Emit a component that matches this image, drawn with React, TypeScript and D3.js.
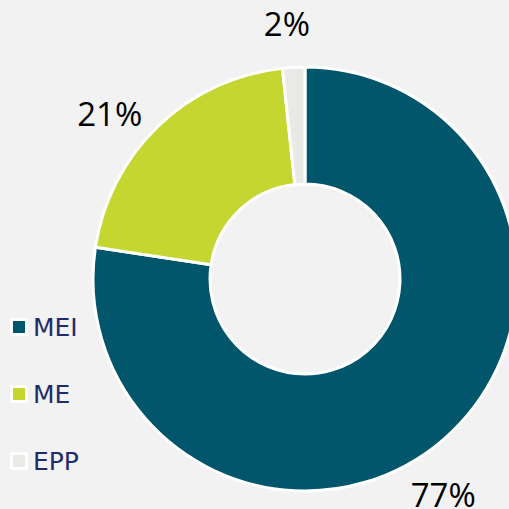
import React from "react";
import * as d3 from "d3";

const categories = ["MEI", "ME", "EPP"];
const values = [77.4, 20.9, 1.7];
const colors = ["#01566b", "#c5d630", "#e9e9e5"];
const labelAngleShift = [8, -6, -1]; // degrees, nudges like Excel's outside-end placement

const W = 509;
const H = 509;
const cx = 305;
const cy = 279;
const outerR = 212;
const innerR = 95;
const labelR = 256;

export default function App() {
  const pie = d3
    .pie<number>()
    .sort(null)
    .value((d) => d)(values);
  const arc = d3.arc<d3.PieArcDatum<number>>().innerRadius(innerR).outerRadius(outerR);
  const total = d3.sum(values);

  const legendY = d3.scalePoint<string>().domain(categories).range([327, 461]);

  return (
    <div style={{ position: "fixed", left: 0, top: 0, width: W, height: H }}>
      <svg width={W} height={H} style={{ display: "block" }}>
        <rect x={0} y={0} width={W} height={H} fill="#f2f2f2" />
        <g transform={`translate(${cx},${cy})`}>
          {pie.map((p, i) => (
            <path key={categories[i]} d={arc(p) || ""} fill={colors[i]} stroke="#ffffff" strokeWidth={3} strokeLinejoin="round" />
          ))}
          {pie.map((p, i) => {
            const a = (p.startAngle + p.endAngle) / 2 + (labelAngleShift[i] * Math.PI) / 180;
            const x = Math.sin(a) * labelR;
            const y = -Math.cos(a) * labelR;
            return (
              <text
                key={"l" + categories[i]}
                x={x}
                y={y}
                textAnchor="middle"
                dominantBaseline="central"
                fontFamily="'Open Sans', sans-serif"
                fontSize={33}
                fill="#000000"
              >
                {Math.round((values[i] / total) * 100) + "%"}
              </text>
            );
          })}
        </g>
        {categories.map((c, i) => {
          const y = legendY(c) as number;
          return (
            <g key={"lg" + c}>
              <rect x={10} y={y - 9} width={18} height={18} rx={2} fill="#ffffff" />
              <rect x={13} y={y - 6} width={12} height={12} fill={colors[i]} />
              <text
                x={33}
                y={y + 9}
                fontFamily="'DejaVu Sans', sans-serif"
                fontSize={25}
                fill="#1f2b6b"
              >
                {c}
              </text>
            </g>
          );
        })}
      </svg>
    </div>
  );
}
